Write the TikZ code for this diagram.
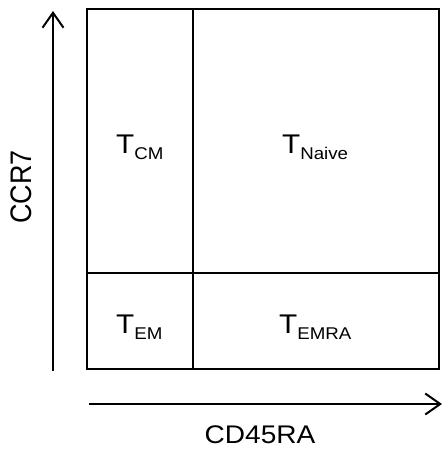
\documentclass[tikz,border=0pt]{standalone}
\usepackage{fontspec}
\usepackage{graphicx}
\setmainfont{Liberation Sans}
\usetikzlibrary{arrows.meta}
\newcommand{\hstr}[1]{\scalebox{1.1}[1]{#1}}
\newcommand{\tlab}[1]{\hstr{\fontsize{27}{27}\selectfont T\raisebox{-6pt}{\fontsize{17}{17}\selectfont #1}}}
\tikzset{
  frame/.style={line width=2pt},
  axis/.style={line width=2pt, -{Straight Barb[length=15pt,width=21pt,line width=2pt]}},
  cell/.style={inner sep=0pt, anchor=base west},
  axlab/.style={inner sep=0pt, anchor=base}
}
\begin{document}
\begin{tikzpicture}[x=1pt,y=-1pt]
\useasboundingbox (0,0) rectangle (442,451);
% quadrant frame
\coordinate (tl) at (87,9);
\coordinate (br) at (439,369);
\coordinate (vt) at (193,9);
\coordinate (vb) at (193,369);
\coordinate (hl) at (87,273);
\coordinate (hr) at (439,273);
\draw[frame] (tl) rectangle (br);
\draw[frame] (vt) -- (vb);
\draw[frame] (hl) -- (hr);
% axes
\coordinate (ys) at (53,371);
\coordinate (ye) at (53,11);
\coordinate (xs) at (89,404);
\coordinate (xe) at (442,404);
\draw[axis] (ys) -- (ye);
\draw[axis] (xs) -- (xe);
% cell labels
\node[cell] (tcm) at (116,153) {\tlab{CM}};
\node[cell] (tnaive) at (282,153) {\tlab{Naive}};
\node[cell] (tem) at (116,333) {\tlab{EM}};
\node[cell] (temra) at (279,333) {\tlab{EMRA}};
% axis labels
\node[axlab] (xl) at (260,443) {\hstr{\fontsize{25.5}{25.5}\selectfont CD45RA}};
\node[axlab, rotate=90] (yl) at (31.5,187) {\scalebox{1}[1.1]{\fontsize{27}{27}\selectfont CCR7}};
\end{tikzpicture}
\end{document}
